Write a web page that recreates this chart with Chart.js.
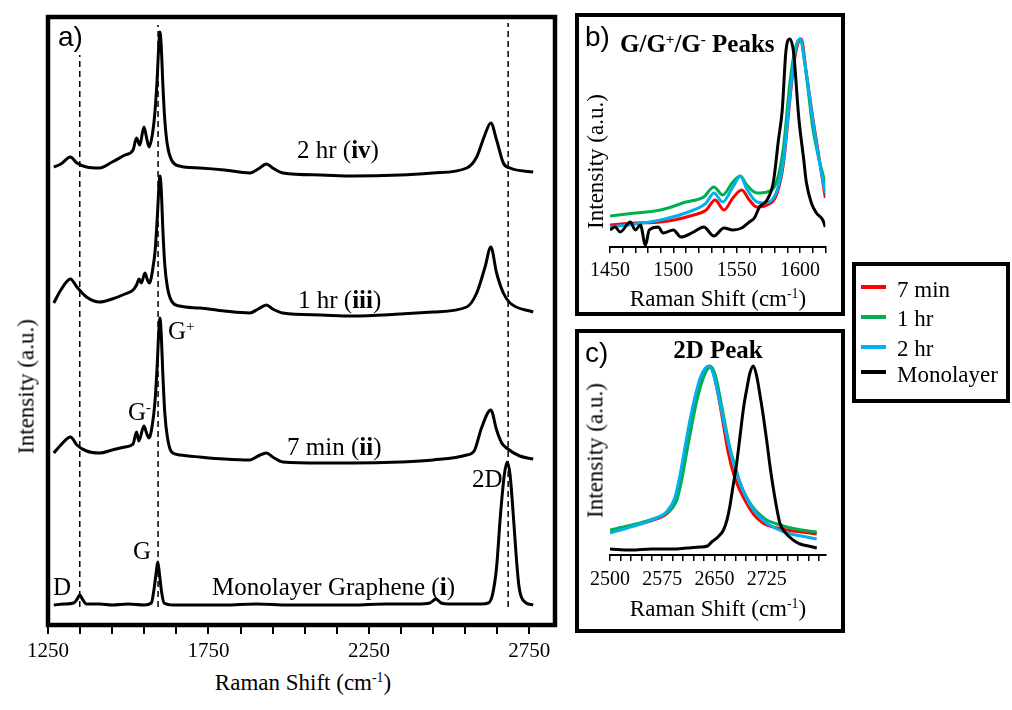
<!DOCTYPE html>
<html>
<head>
<meta charset="utf-8">
<script src="https://cdn.jsdelivr.net/npm/chart.js@4.4.0/dist/chart.umd.min.js"></script>
<style>
  body { margin: 0; width: 1012px; height: 710px; background: #fff; position: relative; overflow: hidden;
         font-family: "Liberation Serif", "Times New Roman", serif; color: #000; }
  canvas, .txt, .box, .sw { position: absolute; }
  .txt { line-height: 1; white-space: nowrap; }
  .txt sup { font-size: 0.6em; position: relative; top: -0.55em; vertical-align: baseline; }
  .sans { font-family: "Liberation Sans", Arial, sans-serif; }
  .box { border: 4px solid #000; box-sizing: border-box; }
  .ctr { text-align: center; width: 300px; }
  .rot { text-align: center; width: 240px; transform: rotate(-90deg); }
  .sw { left: 861px; width: 25px; height: 4px; }
</style>
</head>
<body>
<!-- 面板 b / c 与图例的外框 -->
<div class="box" style="left:575px;top:13px;width:270px;height:303px"></div>
<div class="box" style="left:575px;top:329px;width:270px;height:304px"></div>
<div class="box" style="left:852px;top:262px;width:158px;height:141px"></div>

<canvas id="chart-a" width="560" height="665" style="left:0;top:0"></canvas>
<canvas id="chart-b" width="260" height="290" style="left:580px;top:20px"></canvas>
<canvas id="chart-c" width="260" height="285" style="left:580px;top:340px"></canvas>

<!-- 面板 a 文字 -->
<div class="txt sans" style="left:58px;top:23px;font-size:28px">a)</div>
<div class="txt" style="left:297px;top:137px;font-size:25px">2 hr (<b>iv</b>)</div>
<div class="txt" style="left:298px;top:287px;font-size:25px">1 hr (<b>iii</b>)</div>
<div class="txt" style="left:287px;top:434px;font-size:25px">7 min (<b>ii</b>)</div>
<div class="txt" style="left:212px;top:574px;font-size:25px">Monolayer Graphene (<b>i</b>)</div>
<div class="txt" style="left:53px;top:574px;font-size:25px">D</div>
<div class="txt" style="left:133px;top:538px;font-size:25px">G</div>
<div class="txt" style="left:128px;top:399px;font-size:25px">G<sup>-</sup></div>
<div class="txt" style="left:168px;top:318px;font-size:25px">G<sup>+</sup></div>
<div class="txt" style="left:472px;top:466px;font-size:25px">2D</div>
<div class="txt ctr" style="left:153px;top:671px;font-size:23px">Raman Shift (cm<sup>-1</sup>)</div>
<div class="txt rot" style="left:-94px;top:375px;font-size:23px">Intensity (a.u.)</div>

<!-- 面板 b 文字 -->
<div class="txt sans" style="left:585px;top:23px;font-size:28px">b)</div>
<div class="txt" style="left:620px;top:31px;font-size:25px"><b>G/G<sup>+</sup>/G<sup>-</sup> Peaks</b></div>
<div class="txt ctr" style="left:568px;top:287px;font-size:23px">Raman Shift (cm<sup>-1</sup>)</div>
<div class="txt rot" style="left:475px;top:150px;font-size:23px">Intensity (a.u.)</div>

<!-- 面板 c 文字 -->
<div class="txt sans" style="left:585px;top:339px;font-size:28px">c)</div>
<div class="txt ctr" style="left:568px;top:337px;font-size:25px"><b>2D Peak</b></div>
<div class="txt ctr" style="left:568px;top:597px;font-size:23px">Raman Shift (cm<sup>-1</sup>)</div>
<div class="txt rot" style="left:475px;top:439px;font-size:23px">Intensity (a.u.)</div>

<!-- 图例 -->
<div id="legend"></div>

<script>
// 颜色
const colors = { min7: '#ff0000', hr1: '#00b050', hr2: '#00b0f0', mono: '#000000' };

// ===== 面板 a: 叠放的四条拉曼光谱 =====
const shiftMono = [1268,1300,1330,1341,1349,1357,1370,1411,1450,1500,1550,1572,1580,1587,1592,1597,1604,1612,1640,1700,1800,1900,2000,2100,2200,2300,2400,2440,2459,2475,2500,2560,2600,2622,2635,2648,2660,2672,2681,2690,2700,2710,2718,2725,2740,2762];
const intMono = [20,21,22,26,30,26,21,21,20,21,20,22,35,52,63,52,33,22,20,20,20,21,20,20,20,21,21,22,26,22,21,21,21,22,30,58,110,150,163,150,110,65,38,28,22,20];

const shift7 = [1268,1290,1320,1340,1370,1411,1450,1490,1515,1526,1533,1549,1557,1565,1575,1583,1590,1595,1599,1603,1608,1614,1622,1635,1660,1723,1800,1879,1905,1931,1950,1982,2100,2200,2347,2450,2555,2578,2602,2630,2648,2664,2679,2720,2762];
const int7 = [172,180,188,180,174,172,175,178,181,193,184,199,192,187,200,222,258,292,307,290,250,212,188,173,170,168,166,165,169,172,168,163,162,162,163,165,170,174,198,215,195,182,177,169,166];

const shift1 = [1268,1290,1320,1340,1370,1411,1450,1490,1515,1526,1534,1541,1552,1560,1566,1576,1584,1591,1596,1599,1603,1608,1614,1622,1635,1660,1723,1800,1879,1905,1931,1950,1982,2100,2200,2347,2450,2555,2586,2612,2630,2648,2669,2690,2762];
const int1 = [322,335,346,338,328,323,326,331,335,340,346,342,352,345,342,355,375,410,440,449,435,395,360,338,324,319,317,314,312,316,320,316,312,310,309,311,313,318,332,358,378,352,332,322,313];

const shift2 = [1268,1290,1320,1340,1370,1411,1450,1490,1515,1526,1536,1549,1558,1565,1575,1583,1590,1595,1599,1603,1608,1614,1622,1635,1660,1723,1800,1879,1905,1931,1950,1982,2100,2200,2347,2450,2555,2586,2609,2630,2648,2669,2690,2762];
const int2 = [458,461,468,462,458,457,463,470,475,487,480,498,486,478,490,512,545,578,593,578,540,505,480,465,459,457,455,452,456,461,457,452,450,449,450,452,457,468,488,502,485,462,457,453];

// 虚线 (D, G, 2D 位置)
const dashShift = [1349, 1593, 2684];
const dashTop = [570, 600, 602];
const dashBottom = 18;

// ===== 面板 b: G 峰放大 =====
const shiftB7 = [1450,1470,1490,1516,1526,1533,1540,1547,1554,1560,1566,1574,1582,1587,1592,1596,1601,1605,1610,1615,1620];
const intB7 = [22,24,25,32,37,47,37,49,57,47,40,42,54,84,147,190,208,174,130,90,49];
const shiftB1 = [1450,1470,1490,1510,1524,1532,1539,1547,1553,1558,1566,1574,1582,1587,1592,1596,1600,1604,1610,1615,1620];
const intB1 = [31,34,37,45,50,60,52,65,71,62,54,55,67,100,164,197,208,182,120,88,64];
const shiftB2 = [1450,1470,1490,1516,1526,1532,1539,1547,1553,1558,1566,1572,1582,1587,1592,1596,1600,1605,1610,1615,1620];
const intB2 = [20,23,27,37,44,54,45,60,71,58,45,44,57,87,150,194,208,174,128,88,54];
const shiftBM = [1450,1454,1458,1466,1470,1474,1478,1481,1488,1492,1500,1506,1516,1524,1532,1540,1547,1554,1560,1564,1568,1574,1579,1583,1586,1589,1592,1595,1599,1603,1605,1609,1613,1618,1620];
const intBM = [17,20,15,25,17,22,2,17,20,14,17,10,15,20,11,19,17,19,25,29,40,47,65,107,137,197,208,194,130,87,65,44,34,27,20];

// ===== 面板 c: 2D 峰放大 =====
const shiftC7 = [2500,2525,2548,2570,2581,2595,2602,2609,2616,2624,2632,2639,2644,2650,2656,2663,2670,2678,2687,2696,2706,2716,2725,2740,2754,2775,2797];
const intC7 = [24,28,32,37,41,55,77,103,130,156,176,187,189,178,158,130,102,80,64,52,41,34,30,27,25,23,21];
const shiftC1 = [2500,2525,2548,2570,2581,2596,2603,2610,2617,2625,2633,2640,2646,2652,2658,2665,2672,2680,2687,2696,2706,2716,2725,2740,2754,2775,2797];
const intC1 = [25,29,33,38,42,55,75,102,128,155,175,186,188,178,158,132,108,88,72,58,47,40,35,31,28,25,23];
const shiftC2 = [2500,2525,2548,2570,2581,2593,2600,2607,2614,2622,2630,2637,2642,2649,2655,2662,2670,2678,2687,2696,2706,2716,2725,2740,2754,2775,2797];
const intC2 = [22,27,32,38,43,57,78,105,132,158,178,187,189,180,162,138,112,90,72,57,45,37,32,26,22,19,16];
const shiftCM = [2500,2530,2560,2590,2610,2630,2640,2646,2655,2663,2668,2672,2677,2682,2687,2692,2697,2701,2706,2711,2715,2720,2725,2730,2735,2740,2744,2750,2758,2765,2773,2785,2797];
const intCM = [6,5,6,6,7,8,9,13,18,25,35,48,70,92,120,148,168,182,189,178,162,140,115,88,65,45,32,24,18,14,11,9,7];

// 刻度标签
const ticksA = [1250, 1750, 2250, 2750];
const ticksB = [1450, 1500, 1550, 1600];
const ticksC = [2500, 2575, 2650, 2725];

// 图例
const legendLabels = ['7 min', '1 hr', '2 hr', 'Monolayer'];
const legendColors = [colors.min7, colors.hr1, colors.hr2, colors.mono];

Chart.defaults.font.family = "'Liberation Serif', 'Times New Roman', serif";
Chart.defaults.color = '#000';

function toPoints(xs, ys) {
  return xs.map((x, i) => ({ x: x, y: ys[i] }));
}

function spectrum(xs, ys, color, width, order) {
  return {
    data: toPoints(xs, ys),
    borderColor: color,
    borderWidth: width,
    pointRadius: 0,
    fill: false,
    cubicInterpolationMode: 'monotone',
    order: order
  };
}

function xAxis(min, max, step, last, labels, fontSize, tickLen, pad, tickWidth, showBorder) {
  return {
    type: 'linear',
    min: min,
    max: max,
    afterBuildTicks: (scale) => {
      const t = [];
      for (let v = min; v <= last + 0.001; v += step) t.push({ value: v });
      scale.ticks = t;
    },
    afterFit: (scale) => { scale.height = 40; },
    grid: { display: true, drawOnChartArea: false, drawTicks: true, tickLength: tickLen, color: '#000', lineWidth: tickWidth },
    border: { display: showBorder, color: '#000', width: 2 },
    ticks: {
      autoSkip: false,
      maxRotation: 0,
      padding: pad,
      color: '#000',
      font: { size: fontSize },
      callback: (v) => labels.includes(v) ? String(v) : ''
    }
  };
}

function baseOptions(xScale, yMax, padding) {
  return {
    responsive: false,
    animation: false,
    layout: { padding: padding },
    plugins: { legend: { display: false }, tooltip: { enabled: false } },
    scales: {
      x: xScale,
      y: { type: 'linear', display: false, min: 0, max: yMax }
    }
  };
}

// 面板 a 外框
const framePlugin = {
  id: 'frame',
  afterDraw(chart) {
    const a = chart.chartArea;
    const ctx = chart.ctx;
    ctx.save();
    ctx.lineWidth = 4.5;
    ctx.strokeStyle = '#000';
    ctx.strokeRect(a.left, a.top, a.right - a.left, a.bottom - a.top);
    ctx.restore();
  }
};

// 面板 a
const dashSets = dashShift.map((x, i) => ({
  data: [{ x: x, y: dashBottom }, { x: x, y: dashTop[i] }],
  borderColor: '#000',
  borderWidth: 1.5,
  borderDash: [6, 4],
  pointRadius: 0,
  fill: false,
  order: 5
}));

new Chart(document.getElementById('chart-a'), {
  type: 'line',
  data: {
    datasets: [
      spectrum(shiftMono, intMono, '#000', 3, 1),
      spectrum(shift7, int7, '#000', 3, 1),
      spectrum(shift1, int1, '#000', 3, 1),
      spectrum(shift2, int2, '#000', 3, 1)
    ].concat(dashSets)
  },
  options: baseOptions(
    xAxis(1250, 2830, 100, 2750, ticksA, 21, 9, 5, 2, false),
    608,
    { left: 48, right: 5, top: 17, bottom: 0 }
  ),
  plugins: [framePlugin]
});

// 面板 b
new Chart(document.getElementById('chart-b'), {
  type: 'line',
  data: {
    datasets: [
      spectrum(shiftB7, intB7, colors.min7, 3, 3),
      spectrum(shiftB1, intB1, colors.hr1, 3, 2),
      spectrum(shiftB2, intB2, colors.hr2, 3, 1),
      spectrum(shiftBM, intBM, colors.mono, 3, 0)
    ]
  },
  options: baseOptions(
    xAxis(1450, 1620, 10, 1620, ticksB, 20, 6, 6, 1.5, true),
    210,
    { left: 30, right: 14.7, top: 17, bottom: 23 }
  )
});

// 面板 c
new Chart(document.getElementById('chart-c'), {
  type: 'line',
  data: {
    datasets: [
      spectrum(shiftC7, intC7, colors.min7, 3, 3),
      spectrum(shiftC1, intC1, colors.hr1, 3, 2),
      spectrum(shiftC2, intC2, colors.hr2, 3, 1),
      spectrum(shiftCM, intCM, colors.mono, 3, 0)
    ]
  },
  options: baseOptions(
    xAxis(2500, 2810, 15, 2800, ticksC, 20, 6, 7, 1.5, true),
    193,
    { left: 30, right: 14.2, top: 22, bottom: 30 }
  )
});

// 图例 (单独的框)
const swatchTops = [285, 315, 345, 370];
const labelTops = [278, 307, 337, 363];
document.getElementById('legend').innerHTML = legendLabels.map((name, i) => `
  <div class="sw" style="top:${swatchTops[i]}px;background:${legendColors[i]}"></div>
  <div class="txt" style="left:897px;top:${labelTops[i]}px;font-size:23px">${name}</div>
`).join('');
</script>
</body>
</html>
